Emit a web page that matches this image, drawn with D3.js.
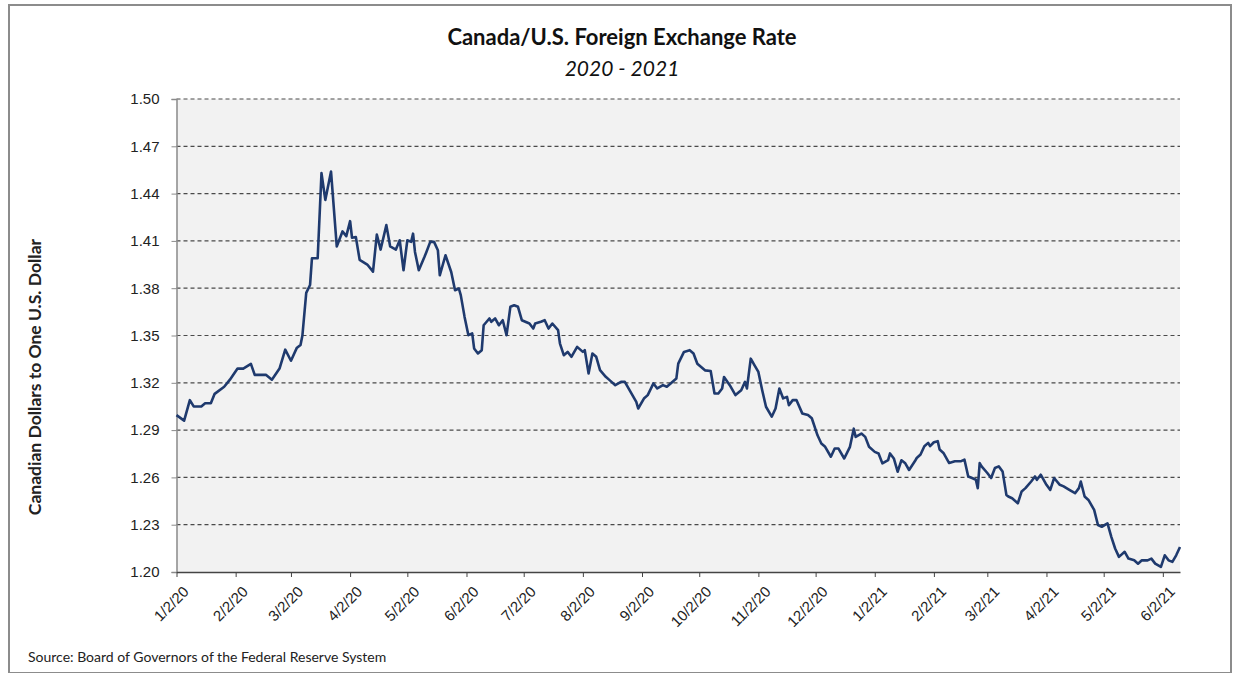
<!DOCTYPE html>
<html><head><meta charset="utf-8">
<script src="https://cdn.jsdelivr.net/npm/d3@7"></script>
<style>body{margin:0;background:#fff;} svg{display:block;font-family:Lato,"Open Sans",sans-serif;}</style>
</head><body><svg id="c" width="1238" height="673"></svg>
<script>
const dates = ["2020-01-02","2020-01-06","2020-01-09","2020-01-11","2020-01-15","2020-01-17","2020-01-20","2020-01-22","2020-01-27","2020-01-30",
"2020-02-03","2020-02-06","2020-02-10","2020-02-12","2020-02-18","2020-02-21","2020-02-25","2020-02-28","2020-03-02","2020-03-05",
"2020-03-07","2020-03-08","2020-03-10","2020-03-12","2020-03-13","2020-03-16","2020-03-18","2020-03-20","2020-03-23","2020-03-26",
"2020-03-29","2020-03-31","2020-04-02","2020-04-03","2020-04-05","2020-04-07","2020-04-11","2020-04-14","2020-04-16","2020-04-18",
"2020-04-21","2020-04-23","2020-04-26","2020-04-28","2020-04-30","2020-05-02","2020-05-04","2020-05-05","2020-05-06","2020-05-08",
"2020-05-11","2020-05-12","2020-05-14","2020-05-16","2020-05-18","2020-05-19","2020-05-22","2020-05-25","2020-05-27","2020-05-29",
"2020-05-30","2020-06-01","2020-06-03","2020-06-05","2020-06-06","2020-06-08","2020-06-10","2020-06-11","2020-06-14","2020-06-15",
"2020-06-17","2020-06-19","2020-06-21","2020-06-23","2020-06-25","2020-06-27","2020-06-29","2020-07-01","2020-07-05","2020-07-07",
"2020-07-08","2020-07-11","2020-07-13","2020-07-15","2020-07-17","2020-07-20","2020-07-21","2020-07-23","2020-07-25","2020-07-27",
"2020-07-30","2020-08-02","2020-08-03","2020-08-05","2020-08-07","2020-08-09","2020-08-11","2020-08-14","2020-08-16","2020-08-19",
"2020-08-22","2020-08-24","2020-08-27","2020-08-30","2020-08-31","2020-09-03","2020-09-05","2020-09-08","2020-09-10","2020-09-13",
"2020-09-15","2020-09-17","2020-09-20","2020-09-21","2020-09-24","2020-09-27","2020-09-29","2020-10-01","2020-10-03","2020-10-05",
"2020-10-08","2020-10-10","2020-10-12","2020-10-14","2020-10-15","2020-10-18","2020-10-21","2020-10-24","2020-10-26","2020-10-27",
"2020-10-29","2020-10-31","2020-11-02","2020-11-04","2020-11-06","2020-11-09","2020-11-11","2020-11-13","2020-11-15","2020-11-17",
"2020-11-18","2020-11-20","2020-11-22","2020-11-25","2020-11-28","2020-11-30","2020-12-03","2020-12-05","2020-12-07","2020-12-10",
"2020-12-12","2020-12-14","2020-12-17","2020-12-20","2020-12-22","2020-12-23","2020-12-26","2020-12-28","2020-12-30","2021-01-02",
"2021-01-04","2021-01-06","2021-01-09","2021-01-10","2021-01-12","2021-01-14","2021-01-16","2021-01-18","2021-01-20","2021-01-23",
"2021-01-24","2021-01-26","2021-01-28","2021-01-30","2021-01-31","2021-02-02","2021-02-04","2021-02-05","2021-02-07","2021-02-10",
"2021-02-13","2021-02-16","2021-02-18","2021-02-20","2021-02-22","2021-02-24","2021-02-25","2021-02-26","2021-02-27","2021-03-02",
"2021-03-04","2021-03-06","2021-03-08","2021-03-10","2021-03-12","2021-03-13","2021-03-15","2021-03-18","2021-03-20","2021-03-22",
"2021-03-25","2021-03-27","2021-03-28","2021-03-30","2021-04-02","2021-04-04","2021-04-06","2021-04-09","2021-04-11","2021-04-14",
"2021-04-17","2021-04-19","2021-04-20","2021-04-22","2021-04-24","2021-04-27","2021-04-29","2021-05-01","2021-05-04","2021-05-06",
"2021-05-08","2021-05-10","2021-05-13","2021-05-15","2021-05-18","2021-05-20","2021-05-22","2021-05-25","2021-05-27","2021-05-29",
"2021-06-01","2021-06-03","2021-06-05","2021-06-07","2021-06-09","2021-06-11"];
const rates = [1.2995,1.296,1.309,1.305,1.305,1.307,1.307,1.313,1.3175,1.322,
1.329,1.329,1.332,1.325,1.325,1.322,1.329,1.341,1.334,1.342,
1.344,1.350,1.377,1.382,1.399,1.399,1.453,1.436,1.454,1.4065,
1.416,1.413,1.4225,1.412,1.4125,1.398,1.395,1.3905,1.414,1.4045,
1.420,1.4065,1.4045,1.4104,1.3914,1.4104,1.4094,1.4146,1.403,1.3914,
1.3999,1.403,1.4094,1.4094,1.4041,1.3882,1.4009,1.3903,1.3787,1.3798,
1.3756,1.3618,1.3502,1.3513,1.3418,1.3386,1.3407,1.3565,1.3608,1.3587,
1.3608,1.3565,1.3597,1.3502,1.3682,1.3692,1.3682,1.3597,1.3576,1.3544,
1.3576,1.3587,1.3597,1.3544,1.3576,1.3534,1.3449,1.3375,1.3396,1.3365,
1.3428,1.3396,1.3407,1.3259,1.3386,1.3365,1.328,1.3238,1.3217,1.3185,
1.3206,1.3206,1.3143,1.3079,1.3037,1.31,1.3122,1.3196,1.3164,1.3185,
1.3175,1.3196,1.3227,1.3322,1.3396,1.3407,1.3386,1.3321,1.33,1.3279,
1.3275,1.3132,1.3132,1.3164,1.3237,1.3185,1.3122,1.3153,1.3206,1.3164,
1.3353,1.3311,1.3269,1.3153,1.3048,1.2985,1.3037,1.3164,1.3101,1.3111,
1.3058,1.309,1.309,1.3006,1.2996,1.2975,1.2867,1.2815,1.2794,1.2731,
1.2783,1.2783,1.272,1.2794,1.2909,1.2857,1.2878,1.2857,1.2794,1.2762,
1.2752,1.2689,1.271,1.2752,1.272,1.2636,1.2709,1.2689,1.2647,1.2702,
1.2723,1.2745,1.2798,1.2819,1.2798,1.2823,1.283,1.2777,1.2755,1.2691,
1.2702,1.2702,1.2713,1.2606,1.2596,1.2585,1.2532,1.2691,1.267,1.2628,
1.2596,1.266,1.267,1.2638,1.2489,1.2479,1.2468,1.2436,1.2511,1.2532,
1.2574,1.2606,1.2585,1.2617,1.2553,1.2521,1.2596,1.2553,1.2543,1.2521,
1.25,1.2532,1.2574,1.2479,1.2457,1.2394,1.2298,1.2287,1.2308,1.2223,
1.2149,1.2096,1.2128,1.2085,1.2074,1.2053,1.2074,1.2074,1.2085,1.2053,
1.2032,1.2106,1.2074,1.2064,1.2106,1.2159];
const yTicks = [1.20,1.23,1.26,1.29,1.32,1.35,1.38,1.41,1.44,1.47,1.50];
const xTickDates = ["2020-01-02","2020-02-02","2020-03-02","2020-04-02","2020-05-02","2020-06-02","2020-07-02","2020-08-02","2020-09-02","2020-10-02","2020-11-02","2020-12-02","2021-01-02","2021-02-02","2021-03-02","2021-04-02","2021-05-02","2021-06-02"];
const title = "Canada/U.S. Foreign Exchange Rate";
const subtitle = "2020 - 2021";
const yTitle = "Canadian Dollars to One U.S. Dollar";
const source = "Source:  Board of Governors of the Federal Reserve System";

const parse = d3.timeParse("%Y-%m-%d");
const data = dates.map((d,i)=>({date:parse(d), v:rates[i]}));
const svg = d3.select("#c");
const L=176.5, R=1180, T=99, B=572;
const x = d3.scaleTime().domain([parse("2020-01-02"), parse("2021-06-11")]).range([L,R]);
const y = d3.scaleLinear().domain([1.20,1.50]).range([B,T]);

// frame
svg.append("rect").attr("x",9).attr("y",5).attr("width",1222).attr("height",668).attr("fill","none").attr("stroke","#8c8c8c").attr("stroke-width",2);

// plot bg
svg.append("rect").attr("x",L).attr("y",T).attr("width",R-L).attr("height",B-T).attr("fill","#f2f2f2");

// grid
svg.append("g").selectAll("line").data(yTicks.filter(t=>t>1.2)).join("line")
  .attr("x1",L).attr("x2",R).attr("y1",d=>y(d)).attr("y2",d=>y(d))
  .attr("stroke","#4a4a4a").attr("stroke-width",1.2).attr("stroke-dasharray","4,3");

// y axis
const ya = svg.append("g").attr("transform",`translate(${L},0)`)
  .call(d3.axisLeft(y).tickValues(yTicks).tickFormat(d3.format(".2f")).tickSize(5).tickPadding(12));
ya.select(".domain").attr("stroke","#8a8a8a").attr("stroke-width",1.5);
ya.selectAll(".tick line").attr("stroke","#8a8a8a");
ya.selectAll("text").attr("font-size",15).attr("fill","#222");

// x axis
const xa = svg.append("g").attr("transform",`translate(0,${B})`)
  .call(d3.axisBottom(x).tickValues(xTickDates.map(parse)).tickFormat(d3.timeFormat("%-m/%-d/%y")).tickSize(5).tickSizeOuter(0));
xa.select(".domain").attr("stroke","#444").attr("stroke-width",1.5);
xa.selectAll(".tick line").attr("stroke","#444");
xa.selectAll("text").attr("font-size",15).attr("fill","#222")
  .attr("text-anchor","end").attr("dy",0).attr("transform","translate(7,15) rotate(-45)");

// line
svg.append("path").datum(data).attr("fill","none").attr("stroke","#1f3a6e").attr("stroke-width",2.6)
  .attr("stroke-linejoin","round")
  .attr("d", d3.line().x(d=>x(d.date)).y(d=>y(d.v)));

// texts
svg.append("text").attr("x",622).attr("y",45).attr("text-anchor","middle").attr("font-size",22).attr("font-weight","bold").attr("fill","#111").text(title);
svg.append("text").attr("x",622).attr("y",76).attr("text-anchor","middle").attr("font-size",21).attr("font-style","italic").attr("fill","#111").text(subtitle);
svg.append("text").attr("transform","translate(41,377) rotate(-90)").attr("text-anchor","middle").attr("font-size",17.5).attr("font-weight","bold").attr("fill","#222").text(yTitle);
svg.append("text").attr("x",28).attr("y",662).attr("font-size",14).attr("fill","#222").text(source);
</script></body></html>
